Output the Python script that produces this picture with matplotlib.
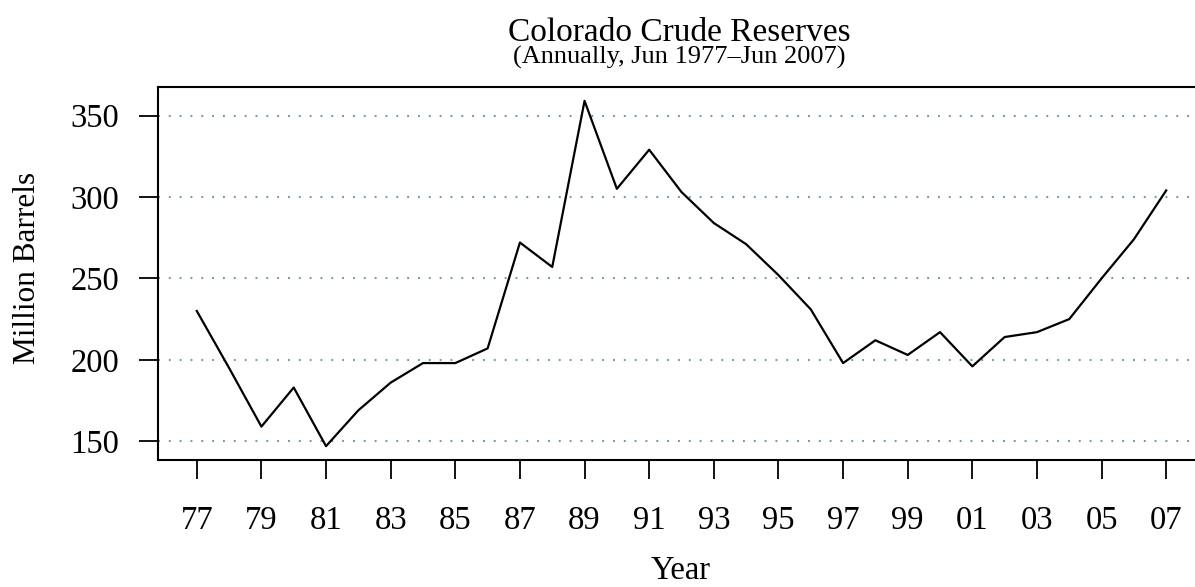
import matplotlib
matplotlib.use("Agg")
import matplotlib.pyplot as plt

# annual June reserves, million barrels
years = list(range(1977, 2008))
reserves = [230, 195, 159, 183, 147, 169, 186, 198, 198, 207,
            272, 257, 359, 305, 329, 303, 284, 271, 252, 231,
            198, 212, 203, 217, 196, 214, 217, 225, 250, 274, 304]
tick_years = list(range(1977, 2008, 2))
tick_labels = [f"{y % 100:02d}" for y in tick_years]
y_ticks = [150, 200, 250, 300, 350]

plt.rcParams['font.family'] = ['Liberation Serif', 'DejaVu Serif']

W, H = 1195, 587
fig = plt.figure(figsize=(W / 100, H / 100), dpi=100)
left, right, top, bottom = 158, 1205, 87, 460
ax = fig.add_axes([left / W, 1 - bottom / H, (right - left) / W, (bottom - top) / H])

for y in y_ticks:
    ax.axhline(y, color='#6a9ea8', linestyle=(0, (0.9, 4.3)), linewidth=1.5, zorder=1)

ax.plot(years, reserves, color='black', linewidth=1.6, zorder=3)

ax.set_xlim(1975.8, 2008.2)
ax.set_ylim(138.5, 367.5)

ax.set_xticks(tick_years)
ax.set_xticklabels(tick_labels)
ax.set_yticks(y_ticks)

for s in ['left', 'bottom', 'top']:
    ax.spines[s].set_linewidth(1.5)
ax.spines['right'].set_visible(False)

ax.tick_params(axis='x', length=14, width=1.3, pad=19, labelsize=23.5)
ax.tick_params(axis='y', length=14, width=1.3, pad=14, labelsize=23.5)

ax.set_xlabel("Year", fontsize=23.5)
ax.xaxis.set_label_coords((681 - left) / (right - left), -(579 - bottom) / (bottom - top), transform=ax.transAxes)
ax.xaxis.label.set_va('baseline')
ax.set_ylabel("Million Barrels", fontsize=22.5)
ax.yaxis.set_label_coords(-(158 - 35) / (right - left), (bottom - 268) / (bottom - top))
ax.yaxis.label.set_va('baseline')

fig.text(679 / W, 1 - 41 / H, "Colorado Crude Reserves", fontsize=24, ha='center', va='baseline')
fig.text(679 / W, 1 - 64 / H, "(Annually, Jun 1977\u2013Jun 2007)", fontsize=19, ha='center', va='baseline')

fig.savefig("out.png", dpi=100)
